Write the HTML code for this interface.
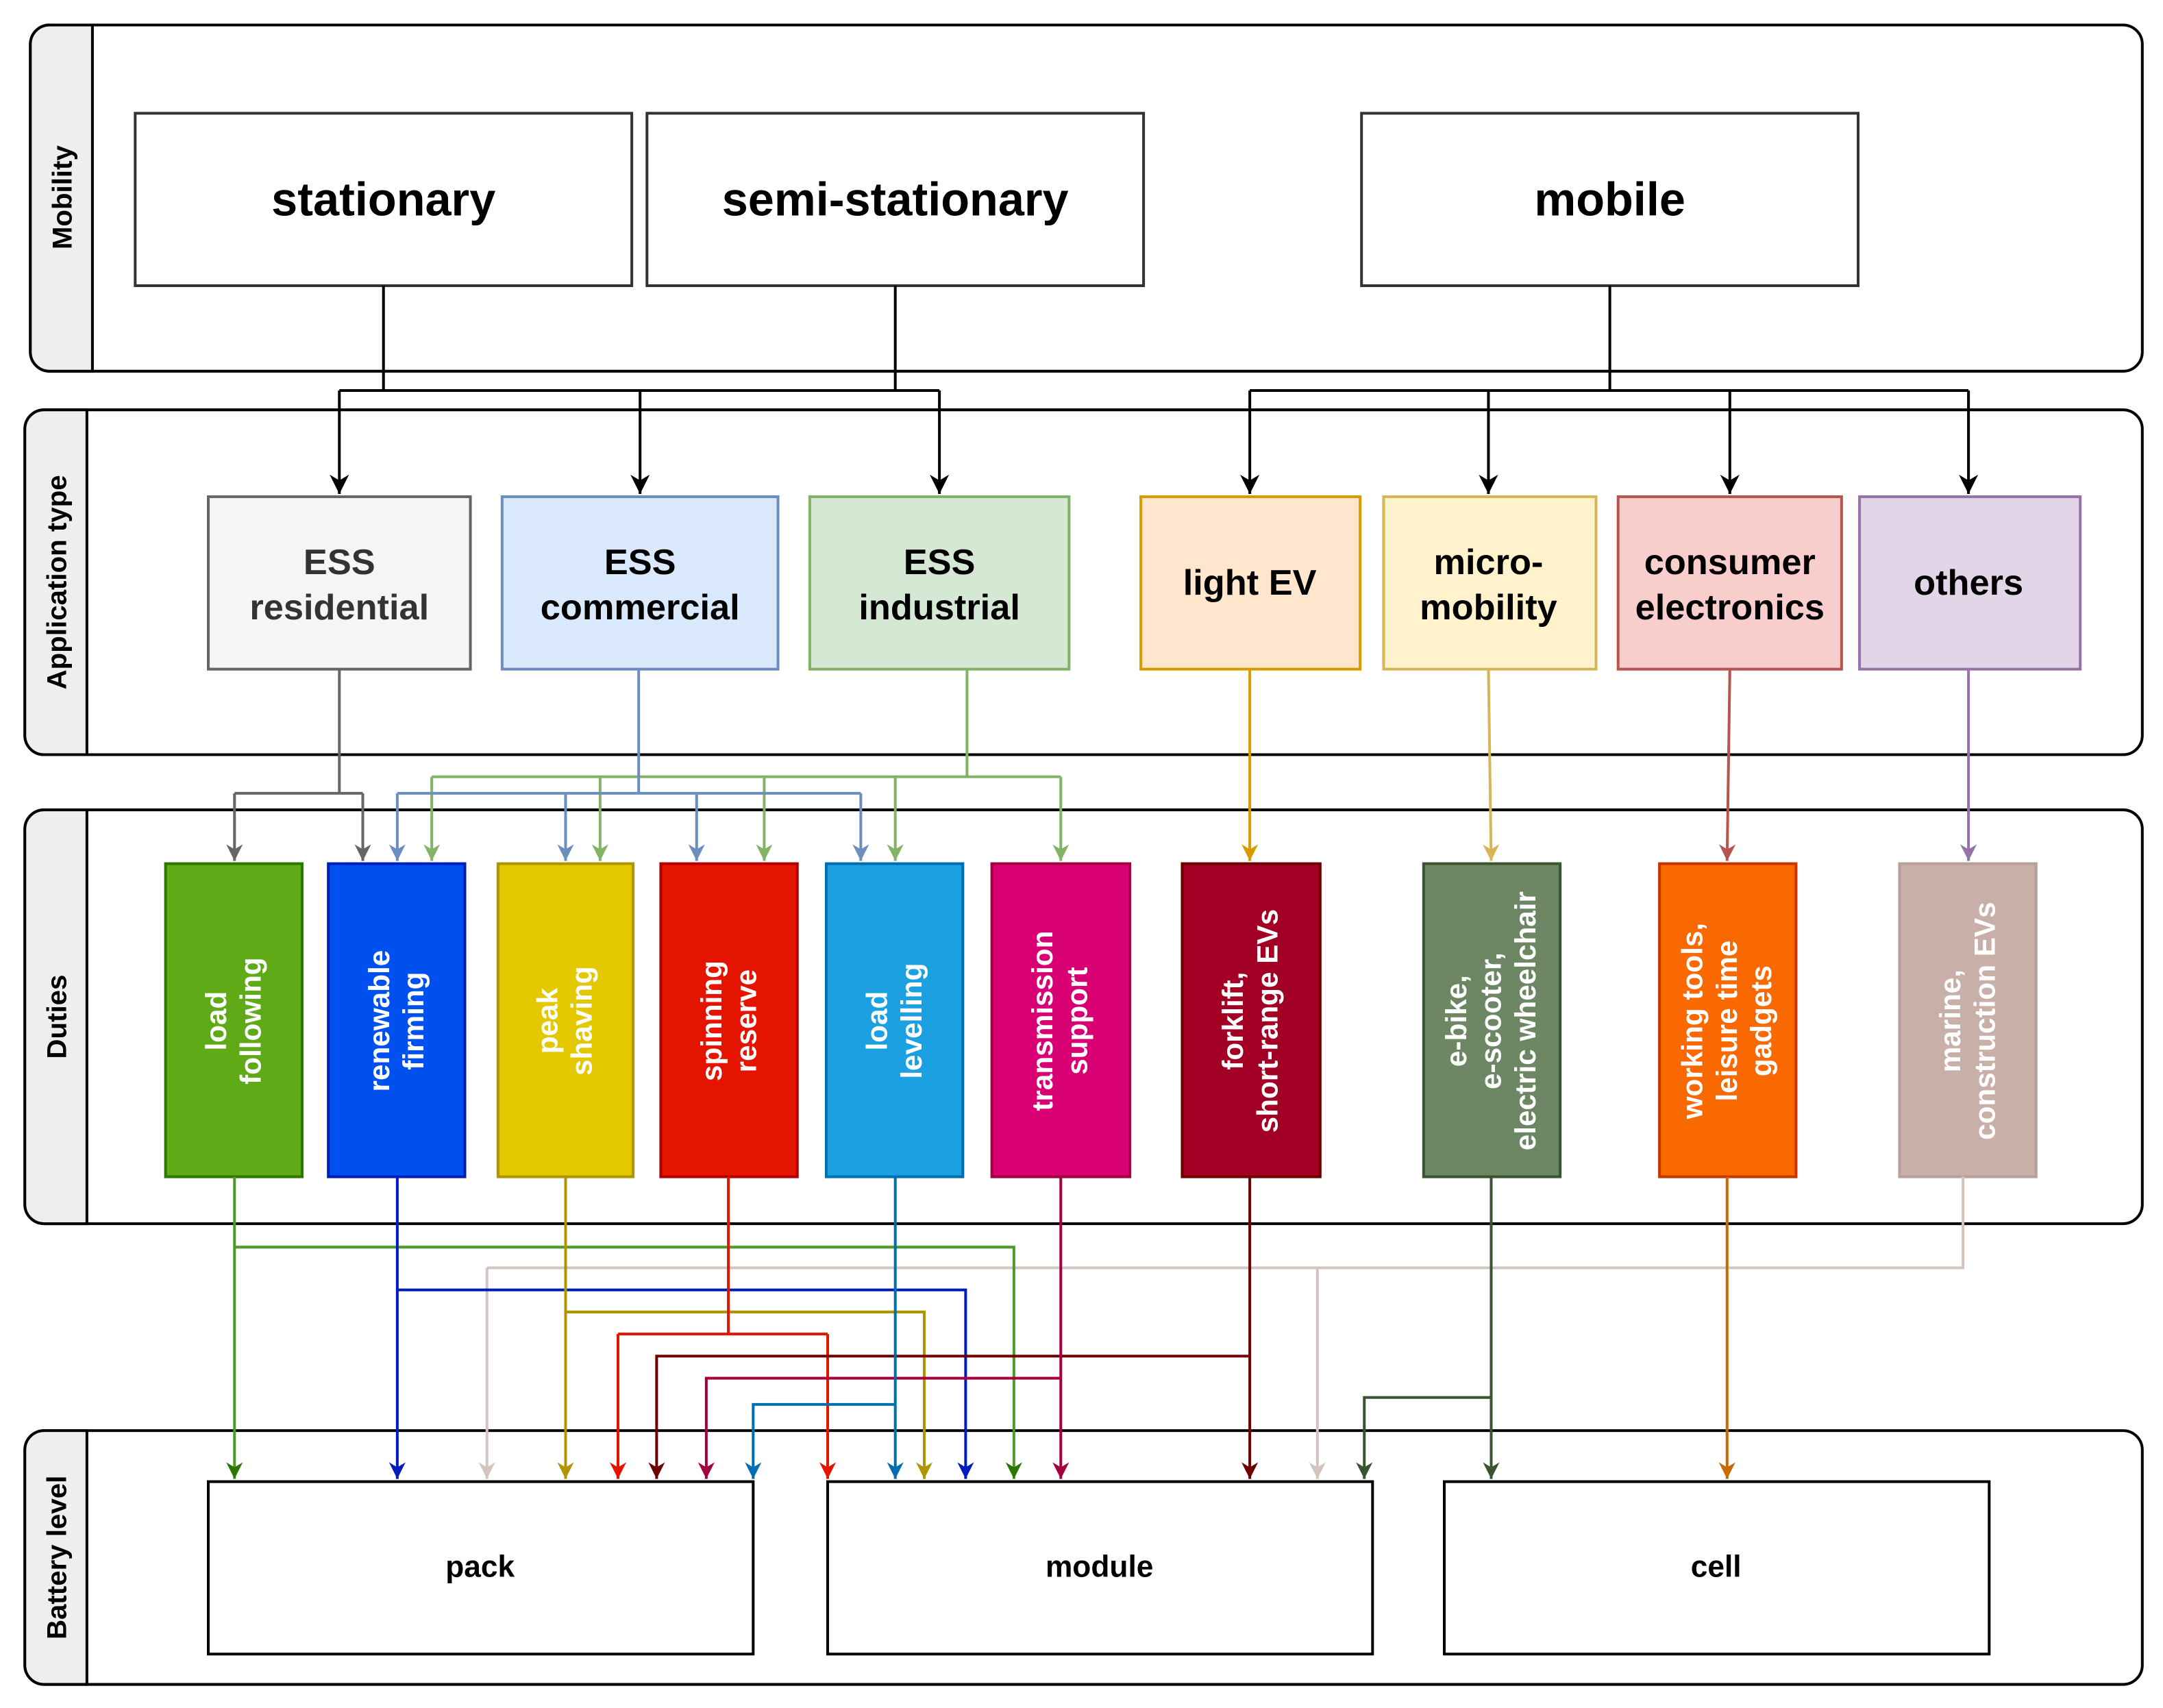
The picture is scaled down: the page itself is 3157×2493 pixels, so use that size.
<!DOCTYPE html>
<html><head><meta charset="utf-8"><style>
html,body{margin:0;padding:0;background:#fff;}
svg{display:block;}
text{font-family:"Liberation Sans",Arial,sans-serif;font-weight:bold;}
</style></head><body>
<svg width="3157" height="2493" viewBox="0 0 1568 1238" xmlns="http://www.w3.org/2000/svg">
<defs>
<marker id="mk" viewBox="0 0 10 10" refX="10" refY="5" markerWidth="14" markerHeight="16" markerUnits="userSpaceOnUse" orient="auto"><path d="M0,0 L10,5 L0,10 L3,5 z" fill="#000"/></marker>
<marker id="m666" viewBox="0 0 10 10" refX="10" refY="5" markerWidth="12" markerHeight="14" markerUnits="userSpaceOnUse" orient="auto"><path d="M0,0 L10,5 L0,10 L3,5 z" fill="#666"/></marker>
<marker id="m6c8" viewBox="0 0 10 10" refX="10" refY="5" markerWidth="12" markerHeight="14" markerUnits="userSpaceOnUse" orient="auto"><path d="M0,0 L10,5 L0,10 L3,5 z" fill="#6c8ebf"/></marker>
<marker id="m82b" viewBox="0 0 10 10" refX="10" refY="5" markerWidth="12" markerHeight="14" markerUnits="userSpaceOnUse" orient="auto"><path d="M0,0 L10,5 L0,10 L3,5 z" fill="#82b366"/></marker>
<marker id="md79" viewBox="0 0 10 10" refX="10" refY="5" markerWidth="12" markerHeight="14" markerUnits="userSpaceOnUse" orient="auto"><path d="M0,0 L10,5 L0,10 L3,5 z" fill="#d79b00"/></marker>
<marker id="md6b" viewBox="0 0 10 10" refX="10" refY="5" markerWidth="12" markerHeight="14" markerUnits="userSpaceOnUse" orient="auto"><path d="M0,0 L10,5 L0,10 L3,5 z" fill="#d6b656"/></marker>
<marker id="mb85" viewBox="0 0 10 10" refX="10" refY="5" markerWidth="12" markerHeight="14" markerUnits="userSpaceOnUse" orient="auto"><path d="M0,0 L10,5 L0,10 L3,5 z" fill="#b85450"/></marker>
<marker id="m967" viewBox="0 0 10 10" refX="10" refY="5" markerWidth="12" markerHeight="14" markerUnits="userSpaceOnUse" orient="auto"><path d="M0,0 L10,5 L0,10 L3,5 z" fill="#9673a6"/></marker>
<marker id="mlf" viewBox="0 0 10 10" refX="10" refY="5" markerWidth="12" markerHeight="14" markerUnits="userSpaceOnUse" orient="auto"><path d="M0,0 L10,5 L0,10 L3,5 z" fill="#2d7600"/></marker>
<marker id="mrf" viewBox="0 0 10 10" refX="10" refY="5" markerWidth="12" markerHeight="14" markerUnits="userSpaceOnUse" orient="auto"><path d="M0,0 L10,5 L0,10 L3,5 z" fill="#001dbc"/></marker>
<marker id="mps" viewBox="0 0 10 10" refX="10" refY="5" markerWidth="12" markerHeight="14" markerUnits="userSpaceOnUse" orient="auto"><path d="M0,0 L10,5 L0,10 L3,5 z" fill="#b09500"/></marker>
<marker id="msr" viewBox="0 0 10 10" refX="10" refY="5" markerWidth="12" markerHeight="14" markerUnits="userSpaceOnUse" orient="auto"><path d="M0,0 L10,5 L0,10 L3,5 z" fill="#e51400"/></marker>
<marker id="mll" viewBox="0 0 10 10" refX="10" refY="5" markerWidth="12" markerHeight="14" markerUnits="userSpaceOnUse" orient="auto"><path d="M0,0 L10,5 L0,10 L3,5 z" fill="#006eaf"/></marker>
<marker id="mts" viewBox="0 0 10 10" refX="10" refY="5" markerWidth="12" markerHeight="14" markerUnits="userSpaceOnUse" orient="auto"><path d="M0,0 L10,5 L0,10 L3,5 z" fill="#a50040"/></marker>
<marker id="mfk" viewBox="0 0 10 10" refX="10" refY="5" markerWidth="12" markerHeight="14" markerUnits="userSpaceOnUse" orient="auto"><path d="M0,0 L10,5 L0,10 L3,5 z" fill="#6f0000"/></marker>
<marker id="meb" viewBox="0 0 10 10" refX="10" refY="5" markerWidth="12" markerHeight="14" markerUnits="userSpaceOnUse" orient="auto"><path d="M0,0 L10,5 L0,10 L3,5 z" fill="#3a5431"/></marker>
<marker id="mwt" viewBox="0 0 10 10" refX="10" refY="5" markerWidth="12" markerHeight="14" markerUnits="userSpaceOnUse" orient="auto"><path d="M0,0 L10,5 L0,10 L3,5 z" fill="#c76a00"/></marker>
<marker id="mmr" viewBox="0 0 10 10" refX="10" refY="5" markerWidth="12" markerHeight="14" markerUnits="userSpaceOnUse" orient="auto"><path d="M0,0 L10,5 L0,10 L3,5 z" fill="#d4c4c0"/></marker>
</defs>

<!-- Lanes -->
<g stroke="#000" stroke-width="2">
<rect x="22" y="18" width="1531" height="251" rx="14" fill="#fff"/>
<path d="M67,18 H36 A14,14 0 0 0 22,32 V255 A14,14 0 0 0 36,269 H67 Z" fill="#eee"/>
<rect x="18" y="297" width="1535" height="250" rx="14" fill="#fff"/>
<path d="M63,297 H32 A14,14 0 0 0 18,311 V533 A14,14 0 0 0 32,547 H63 Z" fill="#eee"/>
<rect x="18" y="587" width="1535" height="300" rx="14" fill="#fff"/>
<path d="M63,587 H32 A14,14 0 0 0 18,601 V873 A14,14 0 0 0 32,887 H63 Z" fill="#eee"/>
<rect x="18" y="1037" width="1535" height="184" rx="14" fill="#fff"/>
<path d="M63,1037 H32 A14,14 0 0 0 18,1051 V1207 A14,14 0 0 0 32,1221 H63 Z" fill="#eee"/>
</g>
<g font-size="20" fill="#000" text-anchor="middle">
<text transform="translate(52,143) rotate(-90)">Mobility</text>
<text transform="translate(48,422) rotate(-90)">Application type</text>
<text transform="translate(48,737) rotate(-90)">Duties</text>
<text transform="translate(48,1129) rotate(-90)">Battery level</text>
</g>

<!-- Mobility boxes -->
<g fill="#fff" stroke="#333" stroke-width="2">
<rect x="98" y="82" width="360" height="125"/>
<rect x="469" y="82" width="360" height="125"/>
<rect x="987" y="82" width="360" height="125"/>
</g>
<g font-size="34" fill="#000" text-anchor="middle">
<text x="278" y="156">stationary</text>
<text x="649" y="156">semi-stationary</text>
<text x="1167" y="156">mobile</text>
</g>

<!-- black connectors -->
<g stroke="#000" stroke-width="2" fill="none">
<path d="M278,207 V283 M649,207 V283 M246,283 H681"/>
<path d="M246,283 V358" marker-end="url(#mk)"/>
<path d="M464,283 V358" marker-end="url(#mk)"/>
<path d="M681,283 V358" marker-end="url(#mk)"/>
<path d="M1167,207 V283 M906,283 H1427"/>
<path d="M906,283 V358" marker-end="url(#mk)"/>
<path d="M1079,283 V358" marker-end="url(#mk)"/>
<path d="M1254,283 V358" marker-end="url(#mk)"/>
<path d="M1427,283 V358" marker-end="url(#mk)"/>
</g>

<!-- App boxes -->
<g stroke-width="2">
<rect x="151" y="360" width="190" height="125" fill="#f5f5f5" stroke="#666"/>
<rect x="364" y="360" width="200" height="125" fill="#dae8fc" stroke="#6c8ebf"/>
<rect x="587" y="360" width="188" height="125" fill="#d5e8d4" stroke="#82b366"/>
<rect x="827" y="360" width="159" height="125" fill="#ffe6cc" stroke="#d79b00"/>
<rect x="1003" y="360" width="154" height="125" fill="#fff2cc" stroke="#d6b656"/>
<rect x="1173" y="360" width="162" height="125" fill="#f8cecc" stroke="#b85450"/>
<rect x="1348" y="360" width="160" height="125" fill="#e1d5e7" stroke="#9673a6"/>
</g>
<g font-size="26" text-anchor="middle">
<text x="246" y="416" fill="#333">ESS</text><text x="246" y="449" fill="#333">residential</text>
<text x="464" y="416" fill="#000">ESS</text><text x="464" y="449" fill="#000">commercial</text>
<text x="681" y="416" fill="#000">ESS</text><text x="681" y="449" fill="#000">industrial</text>
<text x="906" y="431" fill="#000">light EV</text>
<text x="1079" y="416" fill="#000">micro-</text><text x="1079" y="449" fill="#000">mobility</text>
<text x="1254" y="416" fill="#000">consumer</text><text x="1254" y="449" fill="#000">electronics</text>
<text x="1427" y="431" fill="#000">others</text>
</g>

<!-- App -> duties connectors -->
<g fill="none" stroke-width="2">
<g stroke="#666">
<path d="M246,485 V575 M170,575 H263"/>
<path d="M170,575 V624" marker-end="url(#m666)"/>
<path d="M263,575 V624" marker-end="url(#m666)"/>
</g>
<g stroke="#82b366">
<path d="M701,485 V563 M313,563 H769"/>
<path d="M313,563 V624" marker-end="url(#m82b)"/>
<path d="M435,563 V624" marker-end="url(#m82b)"/>
<path d="M554,563 V624" marker-end="url(#m82b)"/>
<path d="M649,563 V624" marker-end="url(#m82b)"/>
<path d="M769,563 V624" marker-end="url(#m82b)"/>
</g>
<g stroke="#6c8ebf">
<path d="M463,485 V575 M288,575 H624"/>
<path d="M288,575 V624" marker-end="url(#m6c8)"/>
<path d="M410,575 V624" marker-end="url(#m6c8)"/>
<path d="M505,575 V624" marker-end="url(#m6c8)"/>
<path d="M624,575 V624" marker-end="url(#m6c8)"/>
</g>
<path d="M906,485 V624" stroke="#d79b00" marker-end="url(#md79)"/>
<path d="M1079,485 L1081,624" stroke="#d6b656" marker-end="url(#md6b)"/>
<path d="M1254,485 L1252,624" stroke="#b85450" marker-end="url(#mb85)"/>
<path d="M1427,485 V624" stroke="#9673a6" marker-end="url(#m967)"/>
</g>

<!-- Duty boxes -->
<g stroke-width="2">
<rect x="120" y="626" width="99" height="227" fill="#60a917" stroke="#2d7600"/>
<rect x="238" y="626" width="99" height="227" fill="#0050ef" stroke="#001dbc"/>
<rect x="361" y="626" width="98" height="227" fill="#e3c800" stroke="#b09500"/>
<rect x="479" y="626" width="99" height="227" fill="#e51400" stroke="#b20000"/>
<rect x="599" y="626" width="99" height="227" fill="#1ba1e2" stroke="#006eaf"/>
<rect x="719" y="626" width="100" height="227" fill="#d80073" stroke="#a50040"/>
<rect x="857" y="626" width="100" height="227" fill="#a20025" stroke="#6f0000"/>
<rect x="1032" y="626" width="99" height="227" fill="#6d8764" stroke="#3a5431"/>
<rect x="1203" y="626" width="99" height="227" fill="#fa6800" stroke="#c73500"/>
<rect x="1377" y="626" width="99" height="227" fill="#c8b0a8" stroke="#b8a09a"/>
</g>
<g font-size="21" fill="#fff" text-anchor="middle">
<g transform="translate(170,740) rotate(-90)"><text y="-6">load</text><text y="19">following</text></g>
<g transform="translate(288,740) rotate(-90)"><text y="-6">renewable</text><text y="19">firming</text></g>
<g transform="translate(410,740) rotate(-90)"><text y="-6">peak</text><text y="19">shaving</text></g>
<g transform="translate(529,740) rotate(-90)"><text y="-6">spinning</text><text y="19">reserve</text></g>
<g transform="translate(649,740) rotate(-90)"><text y="-6">load</text><text y="19">levelling</text></g>
<g transform="translate(769,740) rotate(-90)"><text y="-6">transmission</text><text y="19">support</text></g>
<g transform="translate(907,740) rotate(-90)"><text y="-6">forklift,</text><text y="19">short-range EVs</text></g>
<g transform="translate(1081,740) rotate(-90)"><text y="-18">e-bike,</text><text y="7">e-scooter,</text><text y="32">electric wheelchair</text></g>
<g transform="translate(1252,740) rotate(-90)"><text y="-18">working tools,</text><text y="7">leisure time</text><text y="32">gadgets</text></g>
<g transform="translate(1427,740) rotate(-90)"><text y="-6">marine,</text><text y="19">construction EVs</text></g>
</g>

<!-- Duties -> battery connectors -->
<g fill="none" stroke-width="2">
<g stroke="#d4c4c0">
<path d="M1423,853 V919 H353"/>
<path d="M353,919 V1072" marker-end="url(#mmr)"/>
<path d="M955,919 V1072" marker-end="url(#mmr)"/>
</g>
<g stroke="#4d9a2a">
<path d="M170,853 V1072" marker-end="url(#mlf)"/>
<path d="M170,904 H735 V1072" marker-end="url(#mlf)"/>
</g>
<g stroke="#001dbc">
<path d="M288,853 V1072" marker-end="url(#mrf)"/>
<path d="M288,935 H700 V1072" marker-end="url(#mrf)"/>
</g>
<g stroke="#b09500">
<path d="M410,853 V1072" marker-end="url(#mps)"/>
<path d="M410,951 H670 V1072" marker-end="url(#mps)"/>
</g>
<g stroke="#e51400">
<path d="M528,853 V967 M448,967 H600"/>
<path d="M448,967 V1072" marker-end="url(#msr)"/>
<path d="M600,967 V1072" marker-end="url(#msr)"/>
</g>
<g stroke="#6f0000">
<path d="M906,853 V1072" marker-end="url(#mfk)"/>
<path d="M906,983 H476 V1072" marker-end="url(#mfk)"/>
</g>
<g stroke="#a50040">
<path d="M769,853 V1072" marker-end="url(#mts)"/>
<path d="M769,999 H512 V1072" marker-end="url(#mts)"/>
</g>
<g stroke="#006eaf">
<path d="M649,853 V1072" marker-end="url(#mll)"/>
<path d="M649,1018 H546 V1072" marker-end="url(#mll)"/>
</g>
<g stroke="#3a5431">
<path d="M1081,853 V1072" marker-end="url(#meb)"/>
<path d="M1081,1013 H989 V1072" marker-end="url(#meb)"/>
</g>
<path d="M1252,853 V1072" stroke="#c76a00" marker-end="url(#mwt)"/>
</g>

<!-- Battery boxes -->
<g fill="#fff" stroke="#000" stroke-width="2">
<rect x="151" y="1074" width="395" height="125"/>
<rect x="600" y="1074" width="395" height="125"/>
<rect x="1047" y="1074" width="395" height="125"/>
</g>
<g font-size="22" fill="#000" text-anchor="middle">
<text x="348" y="1143">pack</text>
<text x="797" y="1143">module</text>
<text x="1244" y="1143">cell</text>
</g>
</svg>
</body></html>
